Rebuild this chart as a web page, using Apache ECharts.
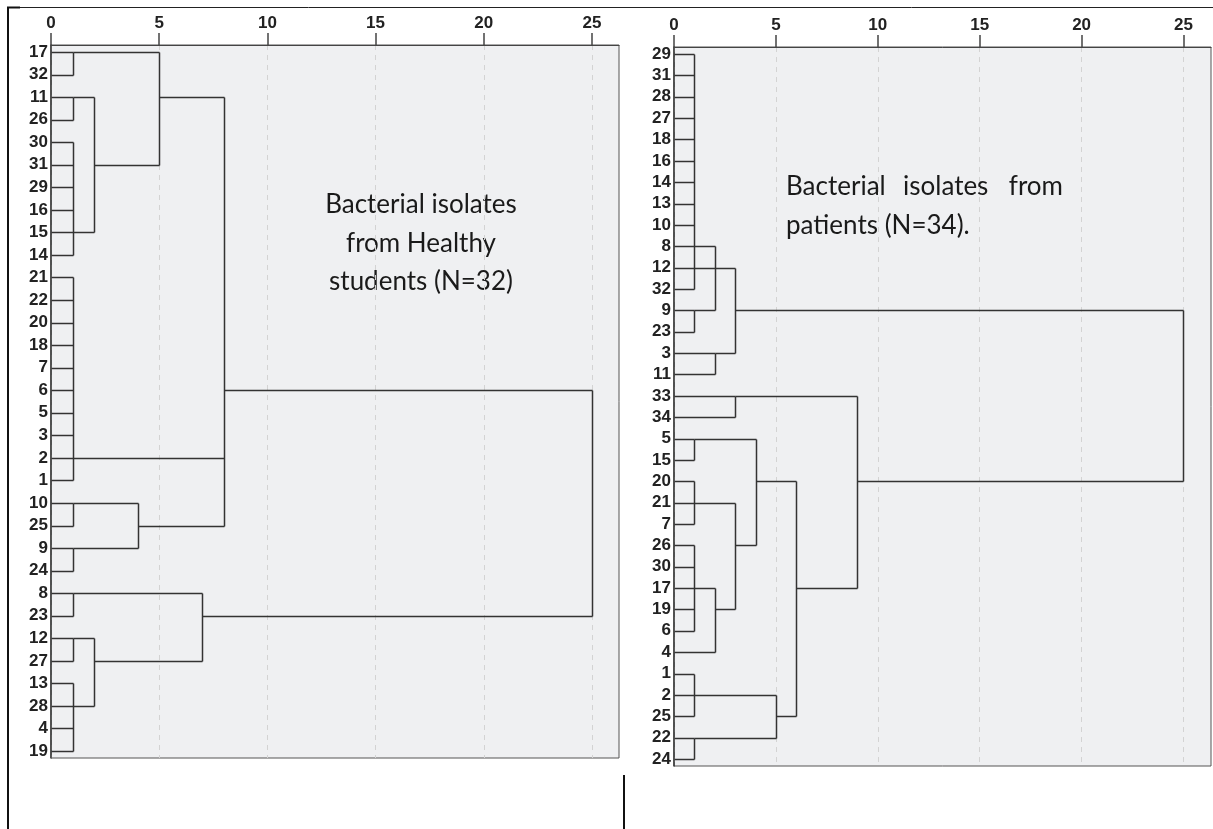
<!doctype html>
<html lang="en">
  <head>
    <meta charset="UTF-8" />
    <title>Dendrograms of bacterial isolates</title>
    <style>
      html,
      body {
        width: 100%;
        height: 100%;
        margin: 0;
        padding: 0;
        background: #fff;
      }
      #Echart {
        width: 1213px;
        height: 829px;
      }
    </style>
  </head>
  <body>
    <div id="Echart"></div>
    <script src="https://cdn.jsdelivr.net/npm/echarts@6/dist/echarts.min.js"></script>
    <script>
      // rescaled distance ticks
      const distTicks = [0, 5, 10, 15, 20, 25]

      // healthy students, leaves from top to bottom
      const healthyLabels = ['17', '32', '11', '26', '30', '31', '29', '16', '15', '14', '21', '22', '20', '18', '7', '6',
        '5', '3', '2', '1', '10', '25', '9', '24', '8', '23', '12', '27', '13', '28', '4', '19']
      // each merge: [distance, [[row, from distance], ...]]
      const healthyMerges = [
        [1, [[0, 0], [1, 0]]],
        [1, [[2, 0], [3, 0]]],
        [1, [[4, 0], [5, 0], [6, 0], [7, 0], [8, 0], [9, 0]]],
        [2, [[2, 1], [8, 1]]],
        [5, [[0, 1], [5, 2]]],
        [1, [[10, 0], [11, 0], [12, 0], [13, 0], [14, 0], [15, 0], [16, 0], [17, 0], [18, 0], [19, 0]]],
        [1, [[20, 0], [21, 0]]],
        [1, [[22, 0], [23, 0]]],
        [4, [[20, 1], [22, 1]]],
        [8, [[2, 5], [18, 1], [21, 4]]],
        [1, [[24, 0], [25, 0]]],
        [1, [[26, 0], [27, 0]]],
        [1, [[28, 0], [29, 0], [30, 0], [31, 0]]],
        [2, [[26, 1], [29, 1]]],
        [7, [[24, 1], [27, 2]]],
        [25, [[15, 8], [25, 7]]],
      ]

      // patients, leaves from top to bottom
      const patientLabels = ['29', '31', '28', '27', '18', '16', '14', '13', '10', '8', '12', '32', '9', '23', '3', '11',
        '33', '34', '5', '15', '20', '21', '7', '26', '30', '17', '19', '6', '4', '1', '2', '25', '22', '24']
      const patientMerges = [
        [1, [[0, 0], [1, 0], [2, 0], [3, 0], [4, 0], [5, 0], [6, 0], [7, 0], [8, 0], [9, 0], [10, 0], [11, 0]]],
        [1, [[12, 0], [13, 0]]],
        [2, [[9, 1], [12, 1]]],
        [2, [[14, 0], [15, 0]]],
        [3, [[10, 1], [14, 2]]],
        [3, [[16, 0], [17, 0]]],
        [1, [[18, 0], [19, 0]]],
        [1, [[20, 0], [21, 0], [22, 0]]],
        [1, [[23, 0], [24, 0], [25, 0], [26, 0], [27, 0]]],
        [2, [[25, 1], [28, 0]]],
        [3, [[21, 1], [26, 2]]],
        [4, [[18, 1], [23, 3]]],
        [1, [[29, 0], [30, 0], [31, 0]]],
        [1, [[32, 0], [33, 0]]],
        [5, [[30, 1], [32, 1]]],
        [6, [[20, 4], [31, 5]]],
        [9, [[16, 3], [25, 6]]],
        [25, [[12, 3], [20, 9]]],
      ]

      // turn merges into [x0, row0, x1, row1] segments
      function toSegments(merges) {
        const segs = []
        merges.forEach(([h, kids]) => {
          const rows = kids.map((k) => k[0])
          segs.push([h, Math.min(...rows), h, Math.max(...rows)])
          kids.forEach(([r, from]) => segs.push([from, r, h, r]))
        })
        return segs
      }

      function renderSeg(params, api) {
        const a = api.coord([api.value(0), api.value(1)])
        const b = api.coord([api.value(2), api.value(3)])
        const px = (v) => Math.round(v) + 0.5
        return {
          type: 'line',
          shape: { x1: px(a[0]), y1: px(a[1]), x2: px(b[0]), y2: px(b[1]) },
          style: { stroke: '#333', lineWidth: 1.5 },
        }
      }

      const labelFont = {
        color: '#222',
        fontFamily: 'Arial, "Liberation Sans"',
        fontWeight: 'bold',
        fontSize: 17,
      }

      function distAxis(idx, max) {
        return {
          type: 'value',
          gridIndex: idx,
          position: 'top',
          min: 0,
          max: max,
          interval: 5,
          axisLine: { show: true, onZero: false, lineStyle: { color: '#444', width: 1 } },
          axisTick: { show: true, length: 12, customValues: distTicks, lineStyle: { color: '#444', width: 1.5 } },
          axisLabel: { ...labelFont, customValues: distTicks, margin: 13 },
          splitLine: { show: true, lineStyle: { type: [5, 5], color: '#d3d3d3' } },
        }
      }

      function leafAxis(idx, labels, pad) {
        return {
          type: 'value',
          gridIndex: idx,
          inverse: true,
          min: -pad,
          max: labels.length - 1 + pad,
          axisLine: { show: true, onZero: false, lineStyle: { color: '#333', width: 1.5 } },
          axisTick: { show: false },
          splitLine: { show: false },
          axisLabel: {
            ...labelFont,
            margin: 3,
            customValues: labels.map((l, i) => i),
            formatter: (v) => labels[v],
          },
        }
      }

      const textStyle = { fill: '#1a1a1a', fontFamily: 'Lato', fontSize: 26, verticalAlign: 'middle' }

      const chart = echarts.init(document.getElementById('Echart'))
      const option = {
        animation: false,
        backgroundColor: '#fff',
        grid: [
          { left: 51, top: 45, width: 568, height: 713, show: true, backgroundColor: '#eff0f2', borderColor: '#555', borderWidth: 1 },
          { left: 674, top: 47, width: 537, height: 719, show: true, backgroundColor: '#eff0f2', borderColor: '#555', borderWidth: 1 },
        ],
        xAxis: [distAxis(0, 26.25), distAxis(1, 26.35)],
        yAxis: [leafAxis(0, healthyLabels, 0.31), leafAxis(1, patientLabels, 0.33)],
        series: [
          {
            type: 'custom',
            xAxisIndex: 0,
            yAxisIndex: 0,
            data: toSegments(healthyMerges),
            encode: { x: [0, 2], y: [1, 3] },
            renderItem: renderSeg,
            silent: true,
          },
          {
            type: 'custom',
            xAxisIndex: 1,
            yAxisIndex: 1,
            data: toSegments(patientMerges),
            encode: { x: [0, 2], y: [1, 3] },
            renderItem: renderSeg,
            silent: true,
          },
        ],
        graphic: [
          // page frame
          { type: 'line', shape: { x1: 7, y1: 7.5, x2: 1213, y2: 7.5 }, style: { stroke: '#222', lineWidth: 1 } },
          { type: 'line', shape: { x1: 7, y1: 7.5, x2: 20, y2: 7.5 }, style: { stroke: '#111', lineWidth: 2 } },
          { type: 'line', shape: { x1: 8, y1: 7, x2: 8, y2: 829 }, style: { stroke: '#111', lineWidth: 2 } },
          { type: 'line', shape: { x1: 624, y1: 775, x2: 624, y2: 829 }, style: { stroke: '#111', lineWidth: 2 } },
          // annotations
          ...['Bacterial isolates', 'from Healthy', 'students (N=32)'].map((t, i) => ({
            type: 'text',
            x: 421,
            y: 205 + i * 38.5,
            style: { ...textStyle, text: t, align: 'center' },
          })),
          { type: 'text', x: 786, y: 187, style: { ...textStyle, text: 'Bacterial', align: 'left' } },
          { type: 'text', x: 903, y: 187, style: { ...textStyle, text: 'isolates', align: 'left' } },
          { type: 'text', x: 1063, y: 187, style: { ...textStyle, text: 'from', align: 'right' } },
          { type: 'text', x: 786, y: 226, style: { ...textStyle, text: 'patients (N=34).', align: 'left' } },
        ],
      }
      chart.setOption(option)
      window.addEventListener('resize', () => chart.resize())
    </script>
  </body>
</html>
